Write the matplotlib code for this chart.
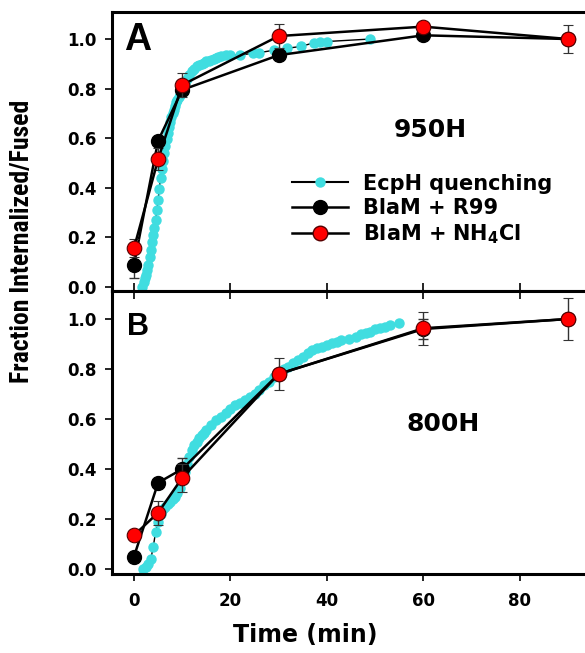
import matplotlib
matplotlib.use("Agg")
import matplotlib.pyplot as plt
from matplotlib.lines import Line2D
from matplotlib import font_manager

# ---------------- data ----------------
time_pts = [0, 5, 10, 30, 60, 90]

# Panel A (950H)
a_r99 = [0.09, 0.59, 0.795, 0.935, 1.015, 1.0]
a_r99_err = [0.055, 0.0, 0.0, 0.0, 0.0, 0.0]
a_nh4 = [0.157, 0.515, 0.815, 1.012, 1.05, 1.0]
a_nh4_err = [0.035, 0.045, 0.048, 0.047, 0.0, 0.058]

a_ecph_t = [1.6, 2.0, 2.25, 2.5, 2.75, 3.0, 3.25, 3.5, 3.75, 4.0, 4.25, 4.5, 4.75,
            5.0, 5.25, 5.5, 5.75, 6.0, 6.25, 6.5, 6.75, 7.0, 7.25, 7.5, 7.75, 8.0,
            8.25, 8.5, 8.75, 9.0, 9.25, 9.5, 9.75, 10.0, 10.5, 11.0, 11.5, 12.0,
            12.5, 13.0, 13.5, 14.0, 14.5, 15.0, 15.5, 16.0, 16.5, 17.0, 17.5, 18.0,
            19.0, 20.0, 22.0, 24.7, 26.0, 29.0, 31.8, 34.6, 37.3, 38.5, 40.0, 49.0]
a_ecph_y = [0.0, 0.02, 0.035, 0.05, 0.07, 0.09, 0.12, 0.15, 0.18, 0.21, 0.24, 0.27, 0.31,
            0.35, 0.395, 0.44, 0.475, 0.51, 0.54, 0.57, 0.595, 0.62, 0.645, 0.665, 0.685, 0.70,
            0.715, 0.73, 0.745, 0.755, 0.765, 0.775, 0.79, 0.80, 0.82, 0.84, 0.855, 0.87,
            0.88, 0.89, 0.895, 0.90, 0.905, 0.91, 0.912, 0.915, 0.92, 0.925, 0.928, 0.93,
            0.935, 0.935, 0.935, 0.943, 0.945, 0.955, 0.963, 0.97, 0.985, 0.987, 0.99, 1.0]

# Panel B (800H)
b_r99 = [0.05, 0.345, 0.40, 0.78, 0.96, 1.0]
b_r99_err = [0.0, 0.0, 0.045, 0.0, 0.04, 0.0]
b_nh4 = [0.135, 0.225, 0.365, 0.78, 0.963, 1.0]
b_nh4_err = [0.0, 0.047, 0.055, 0.065, 0.066, 0.083]

b_ecph_t = [1.9, 2.5, 3.0, 3.5, 4.0, 4.5, 5.0, 5.5, 6.0, 6.5, 7.0, 7.5, 8.0, 8.5, 9.0,
            9.5, 10.0, 10.5, 11.0, 11.5, 12.0, 12.5, 13.0, 13.5, 14.0, 14.5, 15.0, 16.0,
            17.0, 18.0, 19.0, 20.0, 21.0, 22.0, 23.0, 24.0, 25.0, 26.0, 27.0, 28.0, 29.0,
            30.0, 31.0, 32.0, 33.0, 34.0, 35.0, 36.0, 37.0, 38.0, 39.0, 40.0, 41.0, 42.0,
            43.0, 44.5, 46.0, 47.0, 48.0, 49.0, 50.0, 51.0, 52.0, 53.0, 55.0]
b_ecph_y = [0.0, 0.01, 0.02, 0.04, 0.09, 0.15, 0.19, 0.22, 0.24, 0.25, 0.26, 0.27, 0.28,
            0.29, 0.305, 0.325, 0.36, 0.39, 0.42, 0.45, 0.475, 0.495, 0.51, 0.525, 0.535,
            0.545, 0.555, 0.575, 0.595, 0.61, 0.625, 0.64, 0.655, 0.665, 0.675, 0.69, 0.70,
            0.715, 0.735, 0.75, 0.77, 0.785, 0.80, 0.81, 0.825, 0.835, 0.85, 0.865, 0.875,
            0.885, 0.89, 0.895, 0.905, 0.91, 0.915, 0.92, 0.93, 0.94, 0.945, 0.95, 0.96,
            0.965, 0.97, 0.975, 0.985]

x_ticks = [0, 20, 40, 60, 80]
y_ticks = [0.0, 0.2, 0.4, 0.6, 0.8, 1.0]
y_ticklabels = ["0.0", "0.2", "0.4", "0.6", "0.8", "1.0"]

labels = ["EcpH quenching", "BlaM + R99", r"BlaM + NH$_\mathbf{4}$Cl"]
ylabel = "Fraction Internalized/Fused"
xlabel = "Time (min)"

# ---------------- styles ----------------
CYAN = "#40dde0"
RED = "#ff0000"
TICKFONT = {"family": "DejaVu Sans", "weight": "bold", "size": 12}

bold_fonts = {f.name for f in font_manager.fontManager.ttflist
              if isinstance(f.weight, int) and f.weight >= 700 or f.weight == "bold"}
YLAB_FAMILY = "Liberation Sans"
for cand in ["Liberation Sans Narrow", "Arimo Narrow", "Roboto Condensed",
             "PT Sans Narrow", "Archivo Narrow"]:
    if cand in bold_fonts:
        YLAB_FAMILY = cand
        break

W, H = 585, 653
fig = plt.figure(figsize=(W / 100, H / 100), dpi=100)

def fx(px):
    return px / W

def fy(py):
    return 1 - py / H

axA = fig.add_axes([fx(112), fy(291), 1 - fx(112), fy(12) - fy(291)])
axB = fig.add_axes([fx(112), fy(574), 1 - fx(112), fy(291) - fy(574)])

def draw(ax, et, ey, r99, r99e, nh4, nh4e):
    ax.plot(et, ey, color="black", lw=1.0, marker="o", ms=6.5, mfc=CYAN,
            mec=CYAN, zorder=2)
    ax.errorbar(time_pts, r99, yerr=r99e, color="black", lw=1.8, marker="o",
                ms=10, mfc="black", mec="black", ecolor="#333333", elinewidth=1.0,
                capsize=3.5, capthick=1.0, zorder=3)
    ax.errorbar(time_pts, nh4, yerr=nh4e, color="black", lw=1.8, marker="o",
                ms=10.5, mfc=RED, mec="#550000", mew=0.8, ecolor="#333333",
                elinewidth=1.0, capsize=3.5, capthick=1.0, zorder=4)
    ax.set_xlim(-4.56, 93.5)
    ax.set_xticks(x_ticks)
    ax.set_yticks(y_ticks)
    ax.set_yticklabels(y_ticklabels, fontdict=TICKFONT)
    ax.spines["right"].set_visible(False)
    for s in ["left", "top", "bottom"]:
        ax.spines[s].set_linewidth(2.2)
    ax.tick_params(axis="y", direction="out", length=5, width=1.2, pad=6)

draw(axA, a_ecph_t, a_ecph_y, a_r99, a_r99_err, a_nh4, a_nh4_err)
draw(axB, b_ecph_t, b_ecph_y, b_r99, b_r99_err, b_nh4, b_nh4_err)

axA.set_ylim(-0.016, 1.109)
axB.set_ylim(-0.02, 1.112)

axA.tick_params(axis="x", direction="in", length=6, width=1.2, labelbottom=False)
axB.tick_params(axis="x", direction="out", length=5, width=1.2, top=True,
                pad=8)
axB.xaxis.set_tick_params(which="major", labeltop=False)
for t in axB.xaxis.get_major_ticks():
    t.tick2line.set_marker(3)
    t.tick2line.set_markersize(6)
axB.set_xticklabels([str(v) for v in x_ticks], fontdict=TICKFONT)

# Panel letters and strain labels
axA.text(0.055, 0.90, "A", transform=axA.transAxes, ha="center", va="center",
         family="Liberation Sans", weight="bold", fontsize=27)
axB.text(0.055, 0.873, "B", transform=axB.transAxes, ha="center", va="center",
         family="Liberation Sans", weight="bold", fontsize=22)
axA.text(0.672, 0.577, "950H", transform=axA.transAxes, ha="center", va="center",
         family="DejaVu Sans", weight="bold", fontsize=18)
axB.text(0.70, 0.530, "800H", transform=axB.transAxes, ha="center", va="center",
         family="DejaVu Sans", weight="bold", fontsize=18)

# Legend
handles = [
    Line2D([], [], color="black", lw=1.5, marker="o", ms=6.5, mfc=CYAN, mec=CYAN),
    Line2D([], [], color="black", lw=1.8, marker="o", ms=10, mfc="black", mec="black"),
    Line2D([], [], color="black", lw=1.8, marker="o", ms=10.5, mfc=RED, mec="#550000"),
]
axA.legend(handles, labels, loc="center left",
           bbox_to_anchor=((292 - 112) / 473, (291 - 210) / 279),
           frameon=False, borderpad=0, borderaxespad=0, handlelength=2.7,
           handletextpad=0.7, labelspacing=0.22,
           prop={"family": "DejaVu Sans", "weight": "bold", "size": 15})

ylab = fig.text(fx(22), fy(241), ylabel, rotation=90,
                ha="center", va="center", family=YLAB_FAMILY, weight="bold",
                fontsize=15.6)
# scale the y-label font so that it spans ~282 px like the reference
renderer = fig.canvas.get_renderer()
ext = ylab.get_window_extent(renderer)
if ext.height > 0:
    ylab.set_fontsize(min(21, 15.6 * 282.0 / ext.height))

fig.text(fx(305), fy(635), xlabel, ha="center", va="center",
         family="DejaVu Sans", weight="bold", fontsize=17)

fig.savefig("out.png", dpi=100)
